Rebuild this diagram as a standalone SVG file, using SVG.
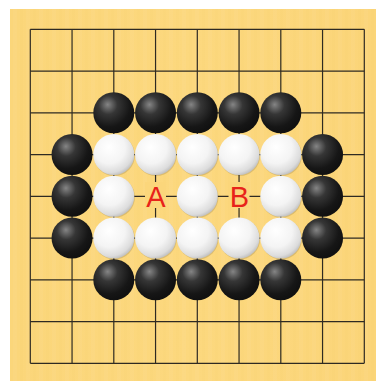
<svg xmlns="http://www.w3.org/2000/svg" xmlns:xlink="http://www.w3.org/1999/xlink" width="376" height="381" viewBox="0 0 376 381">
  <defs>
    <style>
      .grid line { stroke: #2e2a22; stroke-width: 1.2; }
      .lbl { font-family: "Liberation Sans", Arial, sans-serif; font-size: 29px; fill: #e8231a; text-anchor: middle; }
      .lblbg { fill: #fbd67b; }
    </style>
    <linearGradient id="wood" x1="0" y1="0" x2="1" y2="0">
      <stop offset="0" stop-color="#fbd67a"/>
      <stop offset="0.5" stop-color="#fcd87e"/>
      <stop offset="1" stop-color="#fbd579"/>
    </linearGradient>
    <pattern id="grain" width="13" height="381" patternUnits="userSpaceOnUse">
      <rect x="0" y="0" width="4" height="381" fill="#ffffff" opacity="0.035"/>
      <rect x="7" y="0" width="3" height="381" fill="#d9a84a" opacity="0.04"/>
    </pattern>
    <radialGradient id="gb" cx="0.38" cy="0.33" r="0.65" fx="0.35" fy="0.3">
      <stop offset="0" stop-color="#858585"/>
      <stop offset="0.35" stop-color="#363636"/>
      <stop offset="0.8" stop-color="#161616"/>
      <stop offset="1" stop-color="#111"/>
    </radialGradient>
    <radialGradient id="gw" cx="0.4" cy="0.35" r="0.7" fx="0.38" fy="0.32">
      <stop offset="0" stop-color="#ffffff"/>
      <stop offset="0.55" stop-color="#f4f4f4"/>
      <stop offset="0.85" stop-color="#dcdcdc"/>
      <stop offset="1" stop-color="#b8b8b8"/>
    </radialGradient>
    <g id="b"><circle r="20.5" fill="url(#gb)"/></g>
    <g id="w"><circle cx="0.6" cy="0.8" r="20.6" fill="#000" opacity="0.12"/><circle r="20.5" fill="url(#gw)"/></g>
  </defs>

  <rect x="0" y="0" width="376" height="381" fill="#ffffff"/>
  <g id="board">
    <rect x="10" y="9" width="366" height="372" fill="url(#wood)"/>
    <rect x="10" y="9" width="366" height="372" fill="url(#grain)"/>
  </g>

  <g id="grid" class="grid">
    <line x1="30.3" y1="29.3" x2="30.3" y2="363.3"/>
    <line x1="72.05" y1="29.3" x2="72.05" y2="363.3"/>
    <line x1="113.8" y1="29.3" x2="113.8" y2="363.3"/>
    <line x1="155.55" y1="29.3" x2="155.55" y2="363.3"/>
    <line x1="197.3" y1="29.3" x2="197.3" y2="363.3"/>
    <line x1="239.05" y1="29.3" x2="239.05" y2="363.3"/>
    <line x1="280.8" y1="29.3" x2="280.8" y2="363.3"/>
    <line x1="322.55" y1="29.3" x2="322.55" y2="363.3"/>
    <line x1="364.3" y1="29.3" x2="364.3" y2="363.3"/>
    <line x1="30.3" y1="29.3" x2="364.3" y2="29.3"/>
    <line x1="30.3" y1="71.05" x2="364.3" y2="71.05"/>
    <line x1="30.3" y1="112.8" x2="364.3" y2="112.8"/>
    <line x1="30.3" y1="154.55" x2="364.3" y2="154.55"/>
    <line x1="30.3" y1="196.3" x2="364.3" y2="196.3"/>
    <line x1="30.3" y1="238.05" x2="364.3" y2="238.05"/>
    <line x1="30.3" y1="279.8" x2="364.3" y2="279.8"/>
    <line x1="30.3" y1="321.55" x2="364.3" y2="321.55"/>
    <line x1="30.3" y1="363.3" x2="364.3" y2="363.3"/>
  </g>

  <g id="connectors"></g>

  <g id="black-stones">
    <use id="b-c3" xlink:href="#b" href="#b" x="113.8" y="112.8"/>
    <use id="b-d3" xlink:href="#b" href="#b" x="155.55" y="112.8"/>
    <use id="b-e3" xlink:href="#b" href="#b" x="197.3" y="112.8"/>
    <use id="b-f3" xlink:href="#b" href="#b" x="239.05" y="112.8"/>
    <use id="b-g3" xlink:href="#b" href="#b" x="280.8" y="112.8"/>
    <use id="b-b4" xlink:href="#b" href="#b" x="72.05" y="154.55"/>
    <use id="b-h4" xlink:href="#b" href="#b" x="322.55" y="154.55"/>
    <use id="b-b5" xlink:href="#b" href="#b" x="72.05" y="196.3"/>
    <use id="b-h5" xlink:href="#b" href="#b" x="322.55" y="196.3"/>
    <use id="b-b6" xlink:href="#b" href="#b" x="72.05" y="238.05"/>
    <use id="b-h6" xlink:href="#b" href="#b" x="322.55" y="238.05"/>
    <use id="b-c7" xlink:href="#b" href="#b" x="113.8" y="279.8"/>
    <use id="b-d7" xlink:href="#b" href="#b" x="155.55" y="279.8"/>
    <use id="b-e7" xlink:href="#b" href="#b" x="197.3" y="279.8"/>
    <use id="b-f7" xlink:href="#b" href="#b" x="239.05" y="279.8"/>
    <use id="b-g7" xlink:href="#b" href="#b" x="280.8" y="279.8"/>
  </g>

  <g id="white-stones">
    <use id="w-c4" xlink:href="#w" href="#w" x="113.8" y="154.55"/>
    <use id="w-d4" xlink:href="#w" href="#w" x="155.55" y="154.55"/>
    <use id="w-e4" xlink:href="#w" href="#w" x="197.3" y="154.55"/>
    <use id="w-f4" xlink:href="#w" href="#w" x="239.05" y="154.55"/>
    <use id="w-g4" xlink:href="#w" href="#w" x="280.8" y="154.55"/>
    <use id="w-c5" xlink:href="#w" href="#w" x="113.8" y="196.3"/>
    <use id="w-e5" xlink:href="#w" href="#w" x="197.3" y="196.3"/>
    <use id="w-g5" xlink:href="#w" href="#w" x="280.8" y="196.3"/>
    <use id="w-c6" xlink:href="#w" href="#w" x="113.8" y="238.05"/>
    <use id="w-d6" xlink:href="#w" href="#w" x="155.55" y="238.05"/>
    <use id="w-e6" xlink:href="#w" href="#w" x="197.3" y="238.05"/>
    <use id="w-f6" xlink:href="#w" href="#w" x="239.05" y="238.05"/>
    <use id="w-g6" xlink:href="#w" href="#w" x="280.8" y="238.05"/>
  </g>

  <g id="label-A">
    <rect class="lblbg" x="145" y="182" width="21" height="26"/>
    <text class="lbl" x="155.8" y="206.5">A</text>
  </g>
  <g id="label-B">
    <rect class="lblbg" x="228.5" y="182" width="21" height="26"/>
    <text class="lbl" x="239.3" y="206.5">B</text>
  </g>
</svg>
